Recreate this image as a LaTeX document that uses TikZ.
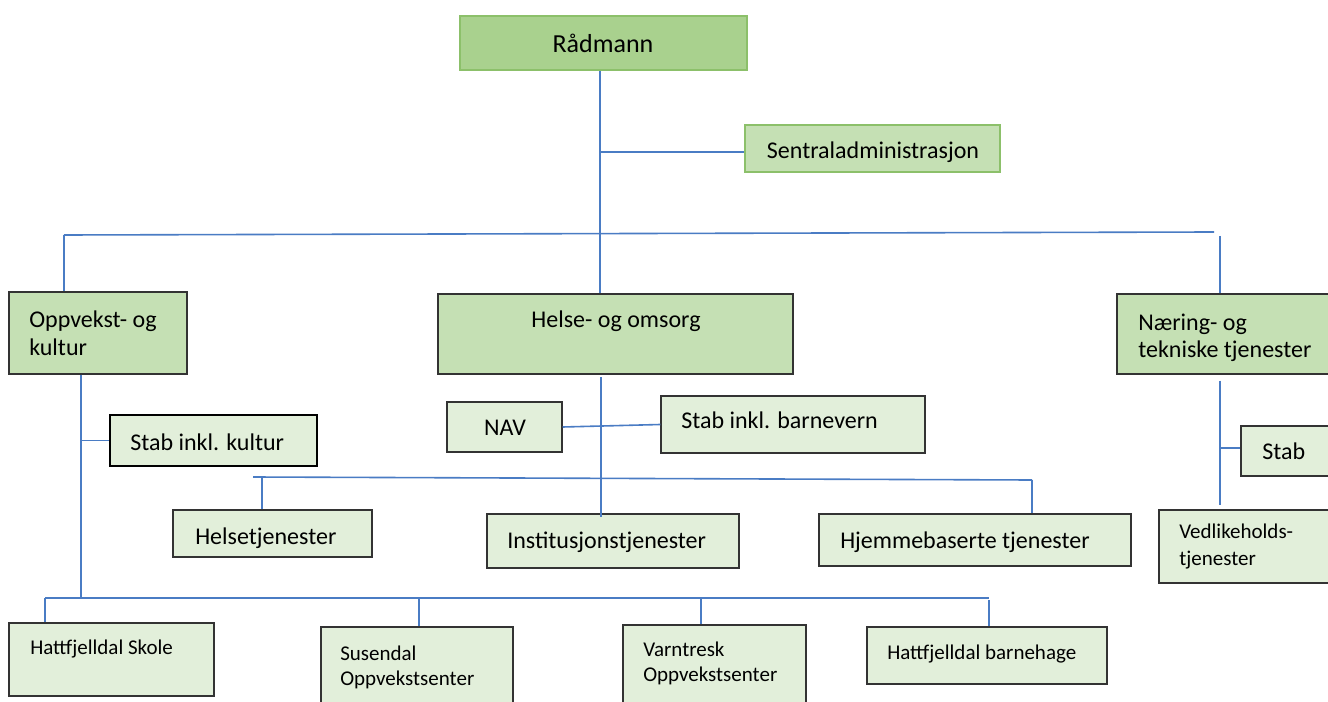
\documentclass[tikz,border=0pt]{standalone}
\usepackage{fontspec}
\setmainfont{Carlito}
\usetikzlibrary{fit}
\definecolor{gdark}{HTML}{A9D18E}
\definecolor{gmid}{HTML}{C5E0B4}
\definecolor{glight}{HTML}{E2EFDA}
\definecolor{gborder}{HTML}{8CC06A}
\definecolor{lineblue}{HTML}{4A7CC4}
\definecolor{boxline}{HTML}{333333}
\begin{document}
\begin{tikzpicture}[x=0.75pt,y=-0.75pt,
  box/.style={draw=boxline, line width=1.1pt, inner sep=0pt},
  topbox/.style={draw=gborder, line width=1.1pt, inner sep=0pt},
  heavybox/.style={draw=black, line width=1.8pt, inner sep=0pt},
  txt/.style={inner sep=0pt, anchor=base west, text=black, font=\fontsize{18}{22}\selectfont},
  smalltxt/.style={txt, font=\fontsize{15.75}{19}\selectfont},
  conn/.style={draw=lineblue, line width=1.2pt},
  thickconn/.style={draw=lineblue, line width=2.2pt}]
\useasboundingbox (0,0) rectangle (1328,702);
\fill[white] (0,0) rectangle (1328,702);

% boxes
\node[topbox, fill=gdark, fit={(460,16) (747,70)}] (rad) {};
\node[topbox, fill=gmid, fit={(745,125) (1000,172)}] (sen) {};
\node[box, fill=gmid, fit={(9,292) (187,374)}] (opp) {};
\node[box, fill=gmid, fit={(438,294) (793,374)}] (helse) {};
\node[box, fill=gmid, fit={(1117,294) (1336,374)}] (nar) {};
\node[heavybox, fill=glight, fit={(110,415) (317,466)}] (stk) {};
\node[box, fill=glight, fit={(447,402) (562,452)}] (nav) {};
\node[box, fill=glight, fit={(661,396) (925,453)}] (stb) {};
\node[box, fill=glight, fit={(173,510) (372,557)}] (hts) {};
\node[box, fill=glight, fit={(487,514) (739,568)}] (inst) {};
\node[box, fill=glight, fit={(819,514) (1131,566)}] (hjem) {};
\node[box, fill=glight, fit={(1241,426) (1336,476)}] (nst) {};
\node[box, fill=glight, fit={(1159,510) (1336,583)}] (ved) {};
\node[box, fill=glight, fit={(9,623) (214,696)}] (sko) {};
\node[box, fill=glight, fit={(321,627) (513,712)}] (sus) {};
\node[box, fill=glight, fit={(623,625) (806,712)}] (var) {};
\node[box, fill=glight, fit={(867,627) (1107,684)}] (bhg) {};

% texts
\node[txt, anchor=base, font=\fontsize{19.5}{24}\selectfont] (rad-t) at (603,53) {Rådmann};
\node[txt, anchor=base] (sen-t) at (873,159) {Sentraladministrasjon};
\node[txt] (opp-t1) at (29,328) {Oppvekst- og};
\node[txt] (opp-t2) at (29,355) {kultur};
\node[txt, anchor=base] (helse-t) at (616,328) {Helse- og omsorg};
\node[txt] (nar-t1) at (1138,330) {Næring- og};
\node[txt] (nar-t2) at (1138,357) {tekniske tjenester};
\node[txt] (stk-t) at (130,450) {Stab inkl. kultur};
\node[txt, anchor=base] (nav-t) at (505,435) {NAV};
\node[txt] (stb-t) at (681,428) {Stab inkl. barnevern};
\node[txt] (hts-t) at (195,544) {Helsetjenester};
\node[txt] (inst-t) at (507,548) {Institusjonstjenester};
\node[txt] (hjem-t) at (840,548) {Hjemmebaserte tjenester};
\node[txt] (nst-t) at (1262,459) {Stab};
\node[smalltxt] (ved-t1) at (1179,538) {Vedlikeholds-};
\node[smalltxt] (ved-t2) at (1179,565) {tjenester};
\node[smalltxt] (sko-t) at (30,654) {Hattfjelldal Skole};
\node[smalltxt] (sus-t1) at (340,660) {Susendal};
\node[smalltxt] (sus-t2) at (340,685) {Oppvekstsenter};
\node[smalltxt] (var-t1) at (643,656) {Varntresk};
\node[smalltxt] (var-t2) at (643,681) {Oppvekstsenter};
\node[smalltxt] (bhg-t) at (887,659) {Hattfjelldal barnehage};

% bus coordinates
\coordinate (cx) at (600,0);
\coordinate (bl) at (64,235);
\coordinate (br) at (1214,232);
\coordinate (nx) at (1220,236);
\coordinate (ox) at (81,0);
\coordinate (hx) at (601,0);
\coordinate (b2l) at (45,598);
\coordinate (b2a) at (419,598);
\coordinate (b2b) at (701,598);
\coordinate (b2r) at (989,598);
\coordinate (b3l) at (253,477);
\coordinate (b3a) at (262,477.3);
\coordinate (b3r) at (1032,480);

% connectors
\draw[conn] (cx |- rad.south) -- (cx |- helse.north);
\draw[conn] (cx |- 0,152) -- (sen.west |- 0,152);
\draw[conn] (bl) -- (br);
\draw[conn] (bl) -- (bl |- opp.north);
\draw[conn] (nx) -- (nx |- nar.north);
\draw[conn] (ox |- opp.south) -- (b2l -| ox);
\draw[conn] (ox |- stk.west) -- (stk.west);
\draw[conn] (b2l) -- (b2r);
\draw[conn] (b2l) -- (b2l |- sko.north);
\draw[conn] (b2a) -- (b2a |- sus.north);
\draw[conn] (b2b) -- (b2b |- var.north);
\draw[thickconn] ([yshift=-1.5pt]b2r) -- (b2r |- bhg.north);
\draw[conn, shorten <=2pt] (hx |- helse.south) -- ([yshift=-3pt]hx |- inst.north);
\draw[conn] (nav.east) -- (stb.west);
\draw[conn] (b3l) -- (b3r);
\draw[conn] (b3a) -- (b3a |- hts.north);
\draw[conn] (b3r) -- (b3r |- hjem.north);
\draw[conn, shorten <=4.5pt, shorten >=3pt] (nx |- nar.south) -- (nx |- ved.north);
\draw[conn] (nx |- 0,448) -- (nst.west |- 0,448);
\end{tikzpicture}
\end{document}
